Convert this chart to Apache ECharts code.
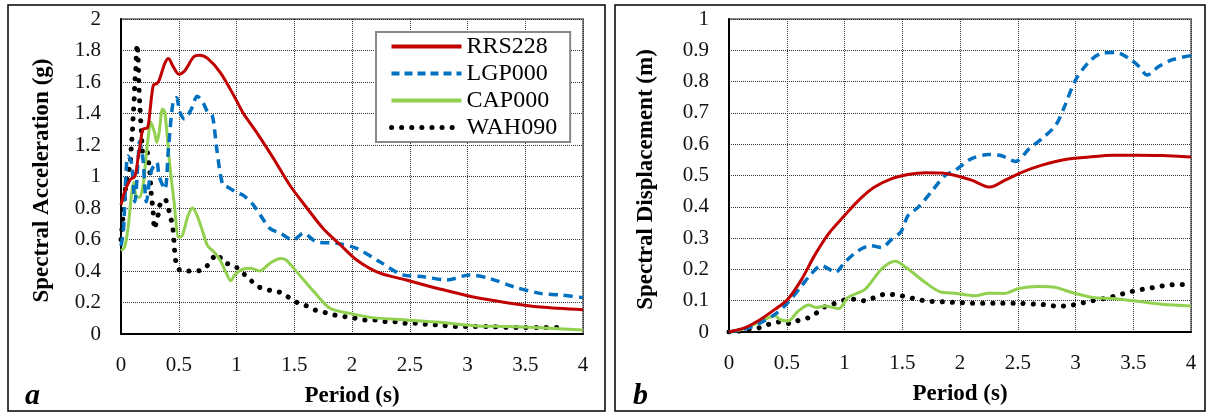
<!DOCTYPE html>
<html>
<head>
<meta charset="utf-8">
<script src="https://cdn.jsdelivr.net/npm/echarts@6/dist/echarts.min.js"></script>
<style>
html,body{margin:0;padding:0;background:#fff;}
#chart{width:1208px;height:413px;}
</style>
</head>
<body>
<div id="chart"></div>
<script>
// ---- Data (period in s) ----
const seriesNames = ['RRS228', 'LGP000', 'CAP000', 'WAH090'];
const xTicks = [0, 0.5, 1, 1.5, 2, 2.5, 3, 3.5, 4];

// Panel a: spectral acceleration (g)
const accRRS228 = [[0,0.82],[0.03,0.9],[0.08,0.98],[0.12,1.0],[0.15,1.13],[0.17,1.22],[0.19,1.3],[0.23,1.31],[0.25,1.41],[0.28,1.58],[0.31,1.59],[0.33,1.61],[0.38,1.72],[0.41,1.75],[0.45,1.70],[0.5,1.65],[0.55,1.67],[0.63,1.76],[0.68,1.77],[0.75,1.75],[0.86,1.66],[0.98,1.51],[1.06,1.40],[1.17,1.285],[1.32,1.115],[1.46,0.946],[1.61,0.80],[1.75,0.67],[1.9,0.565],[2.04,0.47],[2.23,0.39],[2.47,0.343],[2.76,0.286],[3.05,0.235],[3.34,0.199],[3.63,0.171],[4.0,0.154]];
const accLGP000 = [[0,0.56],[0.02,0.65],[0.06,1.13],[0.09,1.09],[0.12,0.84],[0.15,1.13],[0.16,1.22],[0.19,1.11],[0.22,0.84],[0.26,1.03],[0.31,1.09],[0.33,1.0],[0.38,0.92],[0.41,1.17],[0.45,1.47],[0.48,1.50],[0.51,1.41],[0.55,1.365],[0.61,1.43],[0.66,1.51],[0.71,1.47],[0.75,1.41],[0.79,1.39],[0.83,1.17],[0.88,0.95],[0.93,0.93],[1.0,0.90],[1.06,0.88],[1.145,0.82],[1.29,0.67],[1.38,0.64],[1.49,0.597],[1.58,0.64],[1.69,0.586],[1.87,0.576],[2.04,0.544],[2.24,0.459],[2.44,0.375],[2.62,0.364],[2.82,0.343],[3.02,0.375],[3.19,0.353],[3.4,0.30],[3.63,0.258],[3.8,0.248],[4.0,0.231]];
const accCAP000 = [[0,0.53],[0.03,0.55],[0.06,0.667],[0.09,0.88],[0.11,0.963],[0.13,0.878],[0.16,0.868],[0.19,0.94],[0.21,1.07],[0.23,1.217],[0.26,1.344],[0.29,1.28],[0.31,1.217],[0.33,1.28],[0.36,1.429],[0.38,1.407],[0.42,1.09],[0.46,0.836],[0.5,0.614],[0.53,0.624],[0.58,0.75],[0.62,0.80],[0.66,0.75],[0.71,0.645],[0.75,0.56],[0.81,0.518],[0.86,0.466],[0.91,0.39],[0.95,0.338],[0.99,0.38],[1.06,0.413],[1.12,0.417],[1.2,0.40],[1.29,0.449],[1.38,0.48],[1.43,0.47],[1.52,0.396],[1.67,0.269],[1.81,0.163],[1.98,0.131],[2.18,0.104],[2.47,0.089],[2.76,0.074],[3.05,0.053],[3.34,0.047],[3.63,0.04],[4.0,0.025]];
const accWAH090 = [[0,0.6],[0.02,0.77],[0.035,0.9],[0.05,0.98],[0.065,1.03],[0.08,1.09],[0.09,1.2],[0.1,1.3],[0.106,1.39],[0.114,1.49],[0.12,1.6],[0.128,1.68],[0.134,1.79],[0.14,1.84],[0.148,1.75],[0.154,1.6],[0.163,1.45],[0.177,1.28],[0.19,1.15],[0.22,1.17],[0.235,1.11],[0.25,1.03],[0.263,0.88],[0.277,0.79],[0.29,0.667],[0.306,0.71],[0.32,0.75],[0.335,0.815],[0.35,0.836],[0.377,0.857],[0.39,0.847],[0.42,0.77],[0.45,0.667],[0.463,0.54],[0.477,0.455],[0.52,0.40],[0.58,0.40],[0.65,0.40],[0.72,0.413],[0.78,0.466],[0.83,0.508],[0.89,0.455],[0.98,0.434],[1.05,0.39],[1.12,0.343],[1.19,0.30],[1.28,0.279],[1.36,0.269],[1.43,0.243],[1.51,0.205],[1.59,0.184],[1.68,0.152],[1.77,0.135],[1.85,0.12],[1.94,0.11],[2.03,0.10],[2.11,0.089],[2.21,0.089],[2.3,0.078],[2.39,0.078],[2.47,0.068],[2.56,0.068],[2.65,0.061],[2.76,0.057],[2.9,0.047],[3.05,0.047],[3.19,0.047],[3.34,0.042],[3.48,0.042],[3.63,0.042],[3.83,0.04]];

// Panel b: spectral displacement (m)
const dispRRS228 = [[0,0],[0.14,0.014],[0.25,0.035],[0.4,0.073],[0.51,0.105],[0.63,0.169],[0.74,0.244],[0.86,0.313],[1.0,0.372],[1.12,0.42],[1.26,0.463],[1.41,0.49],[1.55,0.503],[1.7,0.509],[1.84,0.508],[1.96,0.50],[2.1,0.485],[2.26,0.463],[2.39,0.485],[2.54,0.511],[2.71,0.533],[2.91,0.551],[3.12,0.559],[3.32,0.565],[3.52,0.565],[3.75,0.564],[4.0,0.559]];
const dispLGP000 = [[0,0],[0.14,0.01],[0.25,0.025],[0.4,0.057],[0.51,0.094],[0.63,0.148],[0.71,0.185],[0.8,0.212],[0.87,0.20],[0.92,0.19],[1.0,0.222],[1.12,0.26],[1.23,0.276],[1.32,0.27],[1.41,0.297],[1.49,0.321],[1.55,0.372],[1.64,0.399],[1.75,0.447],[1.87,0.50],[1.96,0.517],[2.1,0.554],[2.25,0.567],[2.36,0.563],[2.48,0.545],[2.6,0.586],[2.71,0.618],[2.83,0.661],[2.91,0.725],[3.0,0.805],[3.12,0.864],[3.23,0.891],[3.35,0.893],[3.46,0.875],[3.55,0.848],[3.62,0.821],[3.72,0.848],[3.84,0.87],[4.0,0.883]];
const dispCAP000 = [[0,0],[0.14,0.011],[0.25,0.03],[0.4,0.051],[0.44,0.04],[0.51,0.035],[0.6,0.067],[0.69,0.086],[0.76,0.078],[0.83,0.083],[0.95,0.075],[1.03,0.11],[1.18,0.137],[1.32,0.201],[1.44,0.226],[1.55,0.201],[1.7,0.158],[1.83,0.128],[1.96,0.124],[2.13,0.116],[2.25,0.124],[2.38,0.123],[2.51,0.139],[2.68,0.145],[2.83,0.142],[2.97,0.126],[3.15,0.11],[3.32,0.107],[3.52,0.099],[3.75,0.089],[4.0,0.083]];
const dispWAH090 = [[0,0],[0.09,0.003],[0.18,0.009],[0.27,0.014],[0.35,0.025],[0.44,0.032],[0.53,0.027],[0.6,0.037],[0.69,0.046],[0.77,0.064],[0.84,0.083],[0.92,0.092],[1.01,0.103],[1.1,0.105],[1.18,0.099],[1.27,0.112],[1.36,0.121],[1.45,0.118],[1.54,0.112],[1.62,0.105],[1.71,0.099],[1.8,0.097],[1.88,0.096],[1.98,0.094],[2.1,0.092],[2.29,0.092],[2.47,0.092],[2.65,0.089],[2.74,0.087],[2.83,0.083],[2.92,0.083],[3.01,0.089],[3.1,0.096],[3.19,0.103],[3.28,0.109],[3.37,0.118],[3.45,0.126],[3.54,0.134],[3.63,0.139],[3.72,0.145],[3.81,0.15],[3.9,0.152],[4.0,0.152]];

const accData = [accRRS228, accLGP000, accCAP000, accWAH090];
const dispData = [dispRRS228, dispLGP000, dispCAP000, dispWAH090];

// ---- Styles ----
const colors = ['#C00000', '#0070C0', '#92D050', '#000000'];
const lineStyles = [
  {width: 3, type: 'solid'},
  {width: 3.5, type: [9, 6]},
  {width: 3, type: 'solid'},
  {width: 5, type: [0.1, 10], cap: 'round'}
];
const legendLineStyles = [
  {width: 4, type: 'solid'},
  {width: 4, type: [8, 5]},
  {width: 4, type: 'solid'},
  {width: 5, type: [0.1, 10], cap: 'round'}
];
const serif = '"Liberation Serif", "Times New Roman", serif';

const chart = echarts.init(document.getElementById('chart'));

function makeX(gi) {
  return {
    type: 'value', gridIndex: gi, min: 0, max: 4, interval: 0.5,
    name: 'Period (s)', nameLocation: 'middle', nameGap: 51,
    nameTextStyle: {fontFamily: serif, fontWeight: 'bold', fontSize: 23, color: '#000'},
    axisLine: {show: true, onZero: false, lineStyle: {color: '#000', width: 2}},
    axisTick: {show: false},
    axisLabel: {fontFamily: serif, fontSize: 21, color: '#111', margin: 21},
    splitLine: {show: true, lineStyle: {color: '#333', width: 1, type: 'dotted'}}
  };
}
function makeY(gi, max, interval, name, gap) {
  return {
    type: 'value', gridIndex: gi, min: 0, max: max, interval: interval,
    name: name, nameLocation: 'middle', nameGap: gap,
    nameTextStyle: {fontFamily: serif, fontWeight: 'bold', fontSize: 23, color: '#000', padding: [0, 8, 0, 0]},
    axisLine: {show: true, lineStyle: {color: '#000', width: 2}},
    axisTick: {show: false},
    axisLabel: {fontFamily: serif, fontSize: 21, color: '#111', margin: 20},
    splitLine: {show: true, lineStyle: {color: '#333', width: 1, type: 'dotted'}}
  };
}

const series = [];
[accData, dispData].forEach((set, gi) => {
  set.forEach((d, i) => {
    series.push({
      name: seriesNames[i], type: 'line', xAxisIndex: gi, yAxisIndex: gi,
      data: d, showSymbol: false, symbol: 'none', smooth: 0.3,
      lineStyle: Object.assign({color: colors[i]}, lineStyles[i]),
      itemStyle: {color: colors[i]},
      z: 10 - i
    });
  });
});

chart.setOption({
  animation: false,
  backgroundColor: '#fff',
  grid: [
    {left: 121, top: 19, width: 462, height: 315, show: true, borderColor: '#888', borderWidth: 2, backgroundColor: 'transparent'},
    {left: 729, top: 19, width: 462, height: 313, show: true, borderColor: '#888', borderWidth: 2, backgroundColor: 'transparent'}
  ],
  xAxis: [makeX(0), makeX(1)],
  yAxis: [
    makeY(0, 2, 0.2, 'Spectral Acceleration (g)', 67),
    makeY(1, 1, 0.1, 'Spectral Displacement (m)', 71)
  ],
  legend: {
    show: true, orient: 'vertical', left: 376, top: 32,
    data: seriesNames.map((n, i) => ({name: n, lineStyle: Object.assign({color: colors[i]}, legendLineStyles[i])})),
    itemWidth: 70, itemHeight: 14, itemGap: 0,
    padding: [1, 13, 1, 13],
    backgroundColor: '#fff', borderColor: '#888', borderWidth: 2,
    itemStyle: {color: 'rgba(0,0,0,0)', borderColor: 'rgba(0,0,0,0)', borderWidth: 0, opacity: 0},
    textStyle: {fontFamily: serif, fontSize: 24, color: '#000', lineHeight: 27},
    selectedMode: false
  },
  graphic: [
    {type: 'rect', shape: {x: 8, y: 5, width: 597, height: 406}, style: {fill: 'none', stroke: '#000', lineWidth: 1.5}, z: -1},
    {type: 'rect', shape: {x: 615, y: 5, width: 590, height: 406}, style: {fill: 'none', stroke: '#000', lineWidth: 1.5}, z: -1},
    {type: 'text', left: 25, top: 381, style: {text: 'a', font: 'italic bold 30px ' + serif, fill: '#000'}},
    {type: 'text', left: 633, top: 381, style: {text: 'b', font: 'italic bold 30px ' + serif, fill: '#000'}}
  ],
  series: series
});
</script>
</body>
</html>
